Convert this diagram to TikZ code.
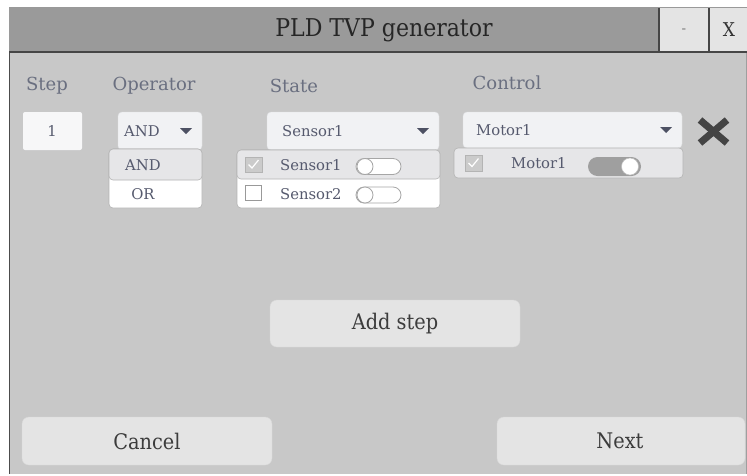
\documentclass[tikz,border=0pt]{standalone}
\usepackage{fontspec}
\setmainfont{DejaVu Serif}
\newfontfamily\condfont{DejaVu Serif Condensed}
\definecolor{winbg}{HTML}{C8C8C8}
\definecolor{titlebg}{HTML}{9A9A9A}
\definecolor{btnbg}{HTML}{E4E4E4}
\definecolor{fieldbg}{HTML}{F1F2F4}
\definecolor{rowsel}{HTML}{E6E6E8}
\definecolor{hdrtxt}{HTML}{6A6F80}
\definecolor{fldtxt}{HTML}{565A6E}
\definecolor{btntxt}{HTML}{3C3C3C}
\definecolor{edge}{HTML}{B4B4B4}
\definecolor{xicon}{HTML}{444444}
\tikzset{
  hdr/.style={text=hdrtxt, font=\fontsize{18}{20}\selectfont, inner sep=0pt},
  fld/.style={text=fldtxt, font=\fontsize{14.8}{16}\selectfont, inner sep=0pt},
  btntext/.style={text=btntxt, font=\condfont\fontsize{21.5}{24}\selectfont, inner sep=0pt},
  btnbox/.style={fill=btnbg, rounded corners=7pt, draw=btnbg!90!gray},
  fieldbox/.style={fill=fieldbg, rounded corners=4pt, draw=fieldbg!85!gray},
  rowbox/.style={rounded corners=4pt, draw=edge, line width=0.6pt},
  arrowtri/.style={fill=fldtxt!90!black, draw=none},
  chkon/.style={fill=winbg!95!white, draw=edge, line width=0.6pt},
  chkoff/.style={fill=white, draw=gray!80, line width=1pt},
  toggleoff/.style={draw=gray!70, fill=white, line width=0.8pt, rounded corners=8pt},
}
\begin{document}
\begin{tikzpicture}[x=1pt,y=-1pt]
\useasboundingbox (0,0) rectangle (747,475);
\fill[white] (0,0) rectangle (747,475);
% window
\fill[winbg] (9,7) rectangle (747,474);
\draw[gray!60!black, line width=1.5pt] (9.5,7) -- (9.5,474);
\draw[gray!75, line width=0.8pt] (746,52) -- (746,474);
% title bar
\fill[titlebg] (9,7) rectangle (659,52);
\fill[btnbg] (659,7) rectangle (747,52);
\draw[gray!55!black, line width=1.2pt] (9,52) -- (747,52);
\draw[gray!55!black, line width=1.4pt] (659,7) -- (659,52);
\draw[gray!55!black, line width=1.4pt] (709,7) -- (709,52);
\draw[gray!80, line width=0.6pt] (9,7.3) -- (747,7.3);
\node[text=black!85, font=\condfont\fontsize{24.5}{27}\selectfont, inner sep=0pt] (title) at (384,30) {PLD TVP generator};
\node[text=gray, font=\condfont\fontsize{15}{17}\selectfont, inner sep=0pt] (minbtn) at (684,31) {-};
\node[text=black!80, font=\condfont\fontsize{19}{21}\selectfont, inner sep=0pt] (closebtn) at (729,30) {X};

% headers
\node[hdr] (hstep) at (47,86) {Step};
\node[hdr] (hop) at (154,86) {Operator};
\node[hdr] (hstate) at (294,86) {State};
\node[hdr] (hctrl) at (507,83) {Control};

% step box
\fill[fieldbg!60!white, rounded corners=2pt] (23,112) rectangle (82,150);
\node[fld] (stepval) at (52,131) {1};

% operator dropdown
\path[fieldbox] (118,112) rectangle (202,150);
\node[fld, anchor=west] (opval) at (124,131) {AND};
\fill[arrowtri] (180,128) -- (192,128) -- (186,134) -- cycle;
\path[rowbox, fill=white] (109,149) rectangle (202,208);
\path[rowbox, fill=rowsel] (109,149) rectangle (202,180);
\node[fld, anchor=west] (opand) at (125,165) {AND};
\node[fld] (opor) at (143,194) {OR};

% state dropdown
\path[fieldbox] (267,112) rectangle (439,150);
\node[fld, anchor=west] (stval) at (282,131) {Sensor1};
\fill[arrowtri] (417,128) -- (429,128) -- (423,134) -- cycle;
\path[rowbox, fill=white] (237,150) rectangle (440,208);
\path[rowbox, fill=rowsel] (237,150) rectangle (440,179);
\draw[chkon] (245,157) rectangle (262,172);
\draw[white, line width=1.2pt] (248.5,164.5) -- (252,168) -- (258.5,160);
\node[fld, anchor=west] (s1) at (280,165) {Sensor1};
\path[toggleoff] (356,158.5) rectangle (401,174.5);
\draw[gray!70, fill=white, line width=0.8pt] (365,166.5) circle (8);
\draw[chkoff] (245,185) rectangle (261,200);
\node[fld, anchor=west] (s2) at (280,194) {Sensor2};
\path[toggleoff] (356,187) rectangle (401,203);
\draw[gray!70, fill=white, line width=0.8pt] (365,195) circle (8);

% control dropdown
\path[fieldbox] (463,112) rectangle (682,148);
\node[fld, anchor=west] (ctval) at (476,130) {Motor1};
\fill[arrowtri] (660,127) -- (672,127) -- (666,133) -- cycle;
\path[rowbox, fill=rowsel] (454,148) rectangle (683,178);
\draw[chkon] (465,155) rectangle (482,171);
\draw[white, line width=1.2pt] (468.5,163) -- (472,166.5) -- (478.5,158.5);
\node[fld, anchor=west] (m1) at (511,163) {Motor1};
\fill[gray!75, rounded corners=9.5pt] (588,157) rectangle (641,176);
\draw[gray!50, fill=white, line width=0.5pt] (630,166.5) circle (8.5);

% remove icon
\draw[xicon, line width=7pt] (700,120) -- (727,143);
\draw[xicon, line width=7pt] (727,120) -- (700,143);
\coordinate (xmark) at (713.5,131.5);

% buttons
\path[btnbox] (270,300) rectangle (520,347);
\node[btntext] (addstep) at (395,324) {Add step};
\path[btnbox] (22,417) rectangle (272,465);
\node[btntext] (cancel) at (147,441) {Cancel};
\path[btnbox] (497,417) rectangle (745,465);
\node[btntext] (next) at (620,441) {Next};
\end{tikzpicture}
\end{document}
